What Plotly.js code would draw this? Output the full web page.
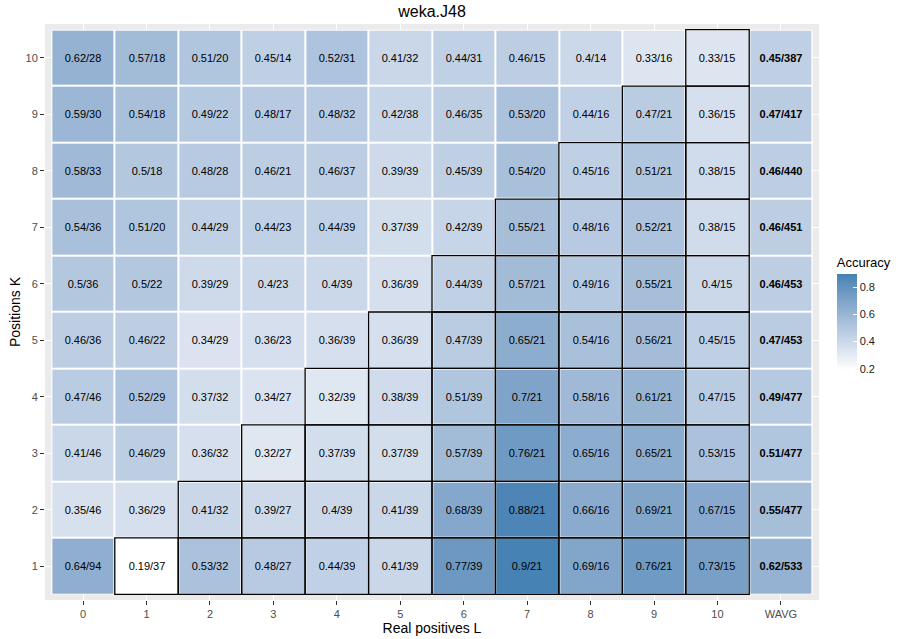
<!DOCTYPE html>
<html>
<head>
<meta charset="utf-8">
<script src="https://cdn.plot.ly/plotly-3.0.1.min.js"></script>
<style>
  html, body { margin: 0; padding: 0; background: #ffffff; }
  #chart { width: 904px; height: 639px; }
</style>
</head>
<body>
<div id="chart"></div>
<script>
// Column categories (real positives L) and row categories (positions K)
const colLabels = ["0", "1", "2", "3", "4", "5", "6", "7", "8", "9", "10", "WAVG"];
const rowLabels = ["1", "2", "3", "4", "5", "6", "7", "8", "9", "10"];

// Accuracy per cell, one array per row K (columns L = 0..10, then WAVG)
const accK1  = [0.64, 0.19, 0.53, 0.48, 0.44, 0.41, 0.77, 0.90, 0.69, 0.76, 0.73, 0.62];
const accK2  = [0.35, 0.36, 0.41, 0.39, 0.40, 0.41, 0.68, 0.88, 0.66, 0.69, 0.67, 0.55];
const accK3  = [0.41, 0.46, 0.36, 0.32, 0.37, 0.37, 0.57, 0.76, 0.65, 0.65, 0.53, 0.51];
const accK4  = [0.47, 0.52, 0.37, 0.34, 0.32, 0.38, 0.51, 0.70, 0.58, 0.61, 0.47, 0.49];
const accK5  = [0.46, 0.46, 0.34, 0.36, 0.36, 0.36, 0.47, 0.65, 0.54, 0.56, 0.45, 0.47];
const accK6  = [0.50, 0.50, 0.39, 0.40, 0.40, 0.36, 0.44, 0.57, 0.49, 0.55, 0.40, 0.46];
const accK7  = [0.54, 0.51, 0.44, 0.44, 0.44, 0.37, 0.42, 0.55, 0.48, 0.52, 0.38, 0.46];
const accK8  = [0.58, 0.50, 0.48, 0.46, 0.46, 0.39, 0.45, 0.54, 0.45, 0.51, 0.38, 0.46];
const accK9  = [0.59, 0.54, 0.49, 0.48, 0.48, 0.42, 0.46, 0.53, 0.44, 0.47, 0.36, 0.47];
const accK10 = [0.62, 0.57, 0.51, 0.45, 0.52, 0.41, 0.44, 0.46, 0.40, 0.33, 0.33, 0.45];

// Number of cases per cell, same layout
const nK1  = [94, 37, 32, 27, 39, 39, 39, 21, 16, 21, 15, 533];
const nK2  = [46, 29, 32, 27, 39, 39, 39, 21, 16, 21, 15, 477];
const nK3  = [46, 29, 32, 27, 39, 39, 39, 21, 16, 21, 15, 477];
const nK4  = [46, 29, 32, 27, 39, 39, 39, 21, 16, 21, 15, 477];
const nK5  = [36, 22, 29, 23, 39, 39, 39, 21, 16, 21, 15, 453];
const nK6  = [36, 22, 29, 23, 39, 39, 39, 21, 16, 21, 15, 453];
const nK7  = [36, 20, 29, 23, 39, 39, 39, 21, 16, 21, 15, 451];
const nK8  = [33, 18, 28, 21, 37, 39, 39, 20, 16, 21, 15, 440];
const nK9  = [30, 18, 22, 17, 32, 38, 35, 20, 16, 21, 15, 417];
const nK10 = [28, 18, 20, 14, 31, 32, 31, 15, 14, 16, 15, 387];

const accRows = [accK1, accK2, accK3, accK4, accK5, accK6, accK7, accK8, accK9, accK10];
const nRows   = [nK1, nK2, nK3, nK4, nK5, nK6, nK7, nK8, nK9, nK10];

// Cell labels "accuracy/count"; the weighted-average column is bold
const textRows = accRows.map((row, r) => row.map((a, c) => {
  const s = a + "/" + nRows[r][c];
  return colLabels[c] === "WAVG" ? "<b>" + s + "</b>" : s;
}));

const allAcc = accRows.flat();
const zMin = Math.min(...allAcc);
const zMax = Math.max(...allAcc);

const FONT = "Liberation Sans, Arial, Helvetica, sans-serif";

const heat = {
  type: "heatmap",
  x: colLabels,
  y: rowLabels,
  z: accRows,
  text: textRows,
  texttemplate: "%{text}",
  textfont: { family: FONT, size: 11, color: "#000000" },
  hoverinfo: "skip",
  xgap: 2,
  ygap: 2,
  zmin: zMin,
  zmax: zMax,
  colorscale: [
    [0.00, "#FFFFFF"],
    [0.25, "#D3DEEC"],
    [0.50, "#A8BFDA"],
    [0.75, "#7AA0C7"],
    [1.00, "#4682B4"]
  ],
  colorbar: {
    title: { text: "Accuracy", side: "top", font: { family: FONT, size: 13, color: "#000000" } },
    thickness: 20,
    thicknessmode: "pixels",
    len: 116,
    lenmode: "pixels",
    x: 1.023,
    xanchor: "left",
    xpad: 0,
    y: 0.5,
    yanchor: "middle",
    ypad: 0,
    outlinewidth: 0,
    tickvals: [0.2, 0.4, 0.6, 0.8],
    ticktext: ["0.2", "0.4", "0.6", "0.8"],
    ticks: "inside",
    ticklen: 4,
    tickcolor: "#FFFFFF",
    tickfont: { family: FONT, size: 11, color: "#1a1a1a" }
  }
};

// White tile backdrop behind the heatmap so that the gaps between tiles read as white lines
const shapes = [{
  type: "rect", layer: "below", xref: "x", yref: "y",
  x0: -0.5, x1: colLabels.length - 0.5, y0: -0.5, y1: rowLabels.length - 0.5,
  fillcolor: "#FFFFFF", line: { width: 0 }
}];

// Black outline on every cell where L >= K (numeric columns only)
rowLabels.forEach((k, r) => {
  colLabels.forEach((l, c) => {
    if (l === "WAVG") return;
    if (Number(l) >= Number(k)) {
      shapes.push({
        type: "rect", layer: "above", xref: "x", yref: "y",
        x0: c - 0.5, x1: c + 0.5, y0: r - 0.5, y1: r + 0.5,
        fillcolor: "rgba(0,0,0,0)",
        line: { color: "#000000", width: 1.3 }
      });
    }
  });
});

const axisCommon = {
  type: "category",
  showgrid: true,
  gridcolor: "#FFFFFF",
  gridwidth: 1,
  zeroline: false,
  showline: false,
  ticks: "outside",
  ticklen: 4,
  tickwidth: 1,
  tickcolor: "#333333",
  tickfont: { family: FONT, size: 11, color: "#4D4D4D" },
  fixedrange: true
};

const layout = {
  width: 904,
  height: 639,
  margin: { l: 45, r: 85, t: 24, b: 39 },
  paper_bgcolor: "#FFFFFF",
  plot_bgcolor: "#EBEBEB",
  font: { family: FONT, color: "#000000" },
  title: {
    text: "weka.J48",
    font: { family: FONT, size: 16, color: "#000000" },
    x: 0.5, xref: "paper", xanchor: "center",
    y: 0.982, yref: "container", yanchor: "middle"
  },
  xaxis: Object.assign({}, axisCommon, {
    range: [-0.6, colLabels.length - 0.4],
    title: { text: "Real positives L", font: { family: FONT, size: 14, color: "#000000" }, standoff: 1 }
  }),
  yaxis: Object.assign({}, axisCommon, {
    range: [-0.6, rowLabels.length - 0.4],
    title: { text: "Positions K", font: { family: FONT, size: 14, color: "#000000" }, standoff: 1 }
  }),
  shapes: shapes
};

Plotly.newPlot("chart", [heat], layout, { displayModeBar: false, staticPlot: true });
</script>
</body>
</html>
